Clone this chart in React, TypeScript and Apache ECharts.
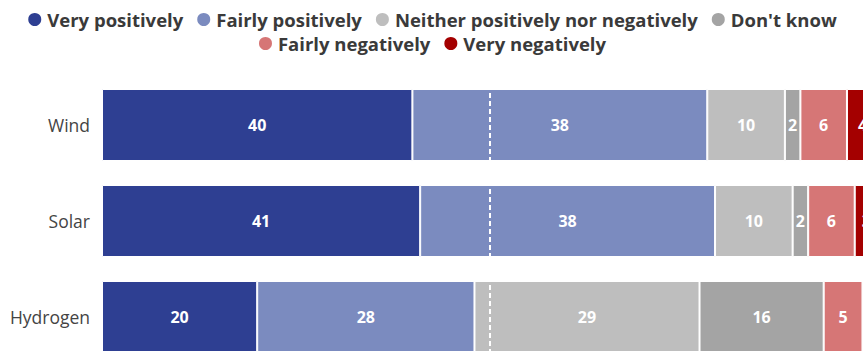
import React, { useEffect, useRef } from "react";
import * as echarts from "echarts";

const categories = ["Wind", "Solar", "Hydrogen"];
const seriesNames = [
  "Very positively",
  "Fairly positively",
  "Neither positively nor negatively",
  "Don't know",
  "Fairly negatively",
  "Very negatively",
];
const veryPositively = [40, 41, 20];
const fairlyPositively = [38, 38, 28];
const neither = [10, 10, 29];
const dontKnow = [2, 2, 16];
const fairlyNegatively = [6, 6, 5];
const veryNegatively = [4, 3, 2];
const colors = ["#2e3f92", "#7b8bbf", "#bebebe", "#a4a4a4", "#d67676", "#a40000"];
const midpoint = 50;

export default function App() {
  const ref = useRef<HTMLDivElement>(null);
  useEffect(() => {
    if (!ref.current) return;
    const chart = echarts.init(ref.current, undefined, { renderer: "svg" });
    const values = [veryPositively, fairlyPositively, neither, dontKnow, fairlyNegatively, veryNegatively];
    const series = seriesNames.map((name, i) => ({
      name,
      type: "bar",
      stack: "total",
      barCategoryGap: "25%",
      data: values[i],
      itemStyle: { color: colors[i], borderColor: "#ffffff", borderWidth: 1 },
      label: {
        show: true,
        position: "inside",
        color: "#ffffff",
        fontFamily: "Open Sans",
        fontWeight: "bold",
        fontSize: 16,
      },
      ...(i === seriesNames.length - 1
        ? {
            markLine: {
              silent: true,
              symbol: "none",
              z: 10,
              label: { show: false },
              lineStyle: { color: "#ffffff", type: [5, 3], width: 2 },
              data: [{ xAxis: midpoint }],
            },
          }
        : {}),
    }));
    const legendCommon = {
      left: "center",
      icon: "circle",
      itemWidth: 15,
      itemHeight: 15,
      itemGap: 12,
      textStyle: {
        fontFamily: "Open Sans",
        fontWeight: "bold",
        fontSize: 18.5,
        color: "#3a3a3a",
      },
    };
    chart.setOption({
      animation: false,
      legend: [
        { ...legendCommon, top: 5, data: seriesNames.slice(0, 4) },
        { ...legendCommon, top: 29, data: seriesNames.slice(4) },
      ],
      grid: {
        left: 102,
        top: 77,
        width: 776,
        height: 288,
        containLabel: false,
        outerBoundsMode: "none",
      },
      xAxis: {
        type: "value",
        min: 0,
        max: 100,
        show: false,
      },
      yAxis: {
        type: "category",
        inverse: true,
        data: categories,
        axisLine: { show: false },
        axisTick: { show: false },
        axisLabel: {
          margin: 12,
          fontFamily: "Open Sans",
          fontSize: 17.5,
          color: "#444444",
        },
      },
      series,
    });
    return () => chart.dispose();
  }, []);
  return (
    <div
      ref={ref}
      style={{ position: "absolute", left: 0, top: 0, width: 863, height: 351 }}
    />
  );
}
